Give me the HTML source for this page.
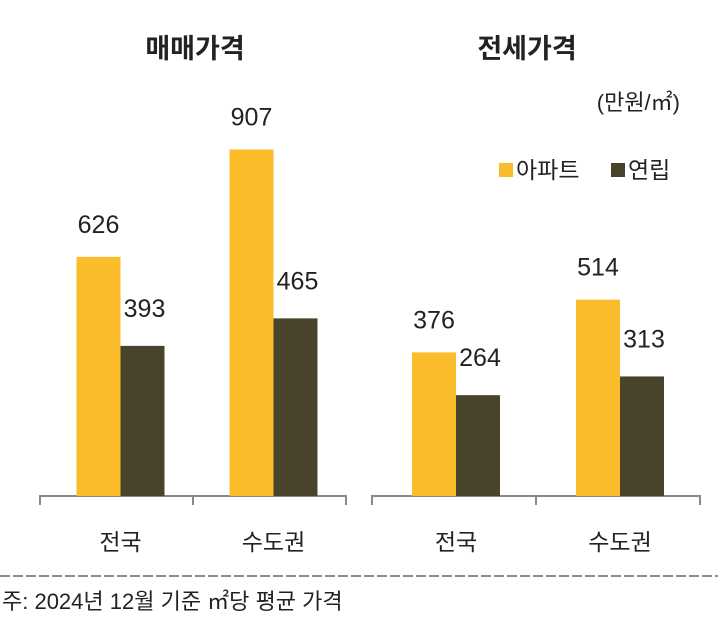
<!DOCTYPE html>
<html><head><meta charset="utf-8"><style>
body{margin:0;background:#fff;width:725px;height:620px;overflow:hidden}
svg text{font-family:"Liberation Sans","Noto Sans CJK KR",sans-serif;fill:#222}
</style></head><body>
<svg id="c" width="725" height="620">
<text x="195" y="58" font-size="27" font-weight="bold" text-anchor="middle">매매가격</text>
<text x="527" y="58" font-size="27" font-weight="bold" text-anchor="middle">전세가격</text>
<text x="680" y="110" font-size="22" text-anchor="end">(만원/㎡)</text>
<rect x="499" y="163" width="14" height="14" fill="#FBBC2C"/>
<text x="516" y="178" font-size="23">아파트</text>
<rect x="611" y="163" width="14" height="14" fill="#4A432C"/>
<text x="628" y="178" font-size="23">연립</text>
<g id="bars"></g>
<line x1="0" y1="576" x2="718" y2="576" stroke="#666" stroke-width="1.5" stroke-dasharray="10,3"/>
<text x="2" y="609" font-size="22">주: 2024년 12월 기준 ㎡당 평균 가격</text>
</svg>
<script>
const categories=["전국","수도권"];
const saleApt=[626,907];
const saleVilla=[393,465];
const jeonseApt=[376,514];
const jeonseVilla=[264,313];
const NS="http://www.w3.org/2000/svg";
const g=document.getElementById("bars");
const base=496, k=0.382;
function y(v){return base-v*k;}
function el(t,a){const e=document.createElementNS(NS,t);for(const n in a)e.setAttribute(n,a[n]);g.appendChild(e);return e;}
const panels=[{x0:40,x1:346,off:4,apt:saleApt,vil:saleVilla,pre:"sale"},{x0:372,x1:700,off:2,apt:jeonseApt,vil:jeonseVilla,pre:"jeonse"}];
panels.forEach(p=>{
  const w=(p.x1-p.x0)/categories.length;
  const ax=el("path",{d:`M${p.x0} 505V496H${p.x1}V505M${p.x0+w} 496V505`,stroke:"#888","stroke-width":"2",fill:"none"});
  
  
  categories.forEach((c,i)=>{
    const cx=p.x0+w*(i+0.5)+p.off, bw=44;
    const a=el("rect",{x:cx-bw,y:y(p.apt[i]),width:bw,height:p.apt[i]*k,fill:"#FBBC2C"});
    
    
    const v=el("rect",{x:cx,y:y(p.vil[i]),width:bw,height:p.vil[i]*k,fill:"#4A432C"});
    
    
    const ta=el("text",{x:cx-bw/2,y:y(p.apt[i])-24,"font-size":"25","text-anchor":"middle"});ta.textContent=p.apt[i];
    
    
    const tv=el("text",{x:cx+bw/2+2,y:y(p.vil[i])-29,"font-size":"25","text-anchor":"middle"});tv.textContent=p.vil[i];
    
    
    const tc=el("text",{x:cx,y:550,"font-size":"23","text-anchor":"middle"});tc.textContent=c;
    
    
  });
});
</script>
</body></html>
